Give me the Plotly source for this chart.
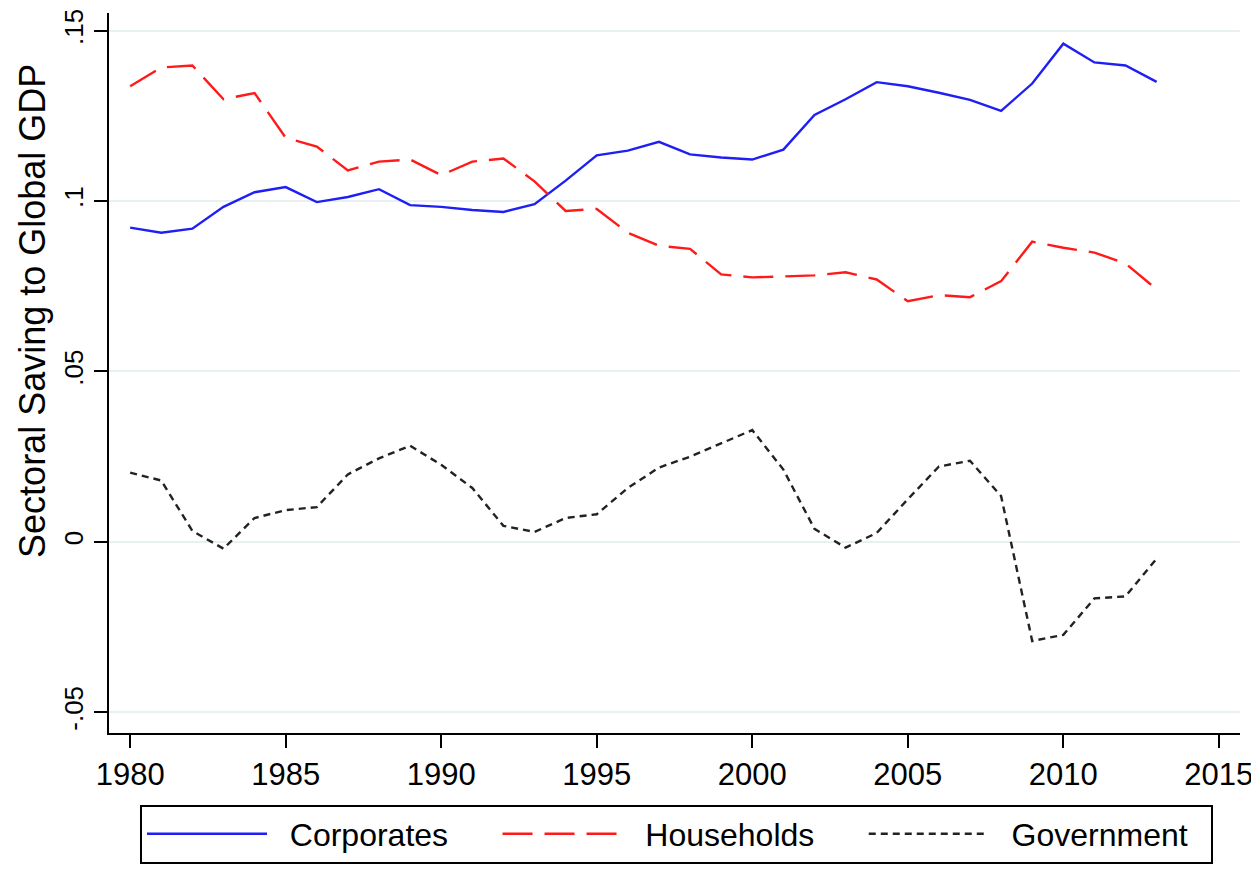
import plotly.graph_objects as go

years = list(range(1980, 2014))

corporates = [0.0922, 0.0907, 0.0919, 0.0983, 0.1026, 0.1041, 0.0997, 0.1012, 0.1035, 0.0988,
              0.0983, 0.0974, 0.0968, 0.0991, 0.1060, 0.1134, 0.1148, 0.1174, 0.1137, 0.1128,
              0.1122, 0.1151, 0.1253, 0.1299, 0.1349, 0.1337, 0.1318, 0.1297, 0.1265, 0.1345,
              0.1462, 0.1407, 0.1398, 0.1350]

households = [0.1337, 0.1392, 0.1398, 0.1299, 0.1317, 0.1186, 0.1160, 0.1090, 0.1116, 0.1122,
              0.1076, 0.1116, 0.1125, 0.1058, 0.0971, 0.0977, 0.0907, 0.0869, 0.0860, 0.0785,
              0.0776, 0.0779, 0.0782, 0.0791, 0.0770, 0.0706, 0.0724, 0.0718, 0.0765, 0.0881,
              0.0863, 0.0849, 0.0817, 0.0741]

government = [0.0203, 0.0180, 0.0032, -0.0020, 0.0070, 0.0093, 0.0102, 0.0198, 0.0245, 0.0282,
              0.0226, 0.0158, 0.0047, 0.0029, 0.0070, 0.0081, 0.0158, 0.0218, 0.0250, 0.0288,
              0.0328, 0.0212, 0.0038, -0.0017, 0.0026, 0.0125, 0.0221, 0.0238, 0.0134, -0.0291,
              -0.0273, -0.0166, -0.0160, -0.0049]

series_names = ["Corporates", "Households", "Government"]

x_ticks = [1980, 1985, 1990, 1995, 2000, 2005, 2010, 2015]
y_ticks = [-0.05, 0, 0.05, 0.1, 0.15]
y_ticklabels = ["-.05", "0", ".05", ".1", ".15"]
y_title = "Sectoral Saving to Global GDP"

FONT = "Liberation Sans, Arial, Helvetica, sans-serif"
NB = "\u00a0"

def legend_label(name, trailing):
    return NB * 2 + name + NB * trailing

fig = go.Figure()
fig.add_trace(go.Scatter(x=years, y=corporates, mode="lines",
                         name=legend_label(series_names[0], 5),
                         line=dict(color="#1f1ff5", width=2.4)))
fig.add_trace(go.Scatter(x=years, y=households, mode="lines",
                         name=legend_label(series_names[1], 5),
                         line=dict(color="#ff1a1a", width=2.4, dash="30px,12px")))
fig.add_trace(go.Scatter(x=years, y=government, mode="lines",
                         name=legend_label(series_names[2], 2),
                         line=dict(color="#222222", width=2.4, dash="7px,5px")))

PLOT_H = 861 - 5 - 131
PLOT_W = 1251 - 101 - 19

# page body has an 8px default margin, so the figure is 8px smaller than the window
fig.update_layout(
    width=1251, height=861,
    margin=dict(l=101, r=19, t=5, b=131),
    paper_bgcolor="white", plot_bgcolor="white",
    font=dict(family=FONT, color="black", size=31),
    showlegend=True,
    legend=dict(
        orientation="h",
        x=31 / PLOT_W, xanchor="left",
        y=-72 / PLOT_H, yanchor="top",
        bordercolor="black", borderwidth=2,
        bgcolor="white",
        font=dict(size=32, family=FONT),
        itemwidth=120,
        entrywidth=0,
        traceorder="normal",
    ),
    annotations=[dict(
        text=y_title, textangle=-90,
        xref="paper", yref="paper",
        x=-76 / PLOT_W, xanchor="center",
        y=(PLOT_H + 13 - 313) / PLOT_H, yanchor="middle",
        showarrow=False,
        font=dict(size=36, family=FONT, color="black"),
    )],
)

fig.update_xaxes(
    range=[1979.32, 2015.68],
    tickvals=x_ticks,
    ticks="outside", ticklen=13, tickwidth=2, tickcolor="black",
    showline=True, linecolor="black", linewidth=2,
    showgrid=False, zeroline=False, automargin=False,
    ticklabeloverflow="allow",
    tickfont=dict(size=31, family=FONT),
)
fig.update_yaxes(
    range=[-0.0561, 0.1552],
    tickvals=y_ticks, ticktext=y_ticklabels,
    tickangle=-90,
    ticks="outside", ticklen=13, tickwidth=2, tickcolor="black",
    showline=True, linecolor="black", linewidth=2,
    showgrid=True, gridcolor="#e8f0f2", gridwidth=2,
    zeroline=False, automargin=False,
    ticklabeloverflow="allow",
    ticklabelstandoff=1,
    tickfont=dict(size=26, family=FONT),
)

fig.write_html("out.html")
